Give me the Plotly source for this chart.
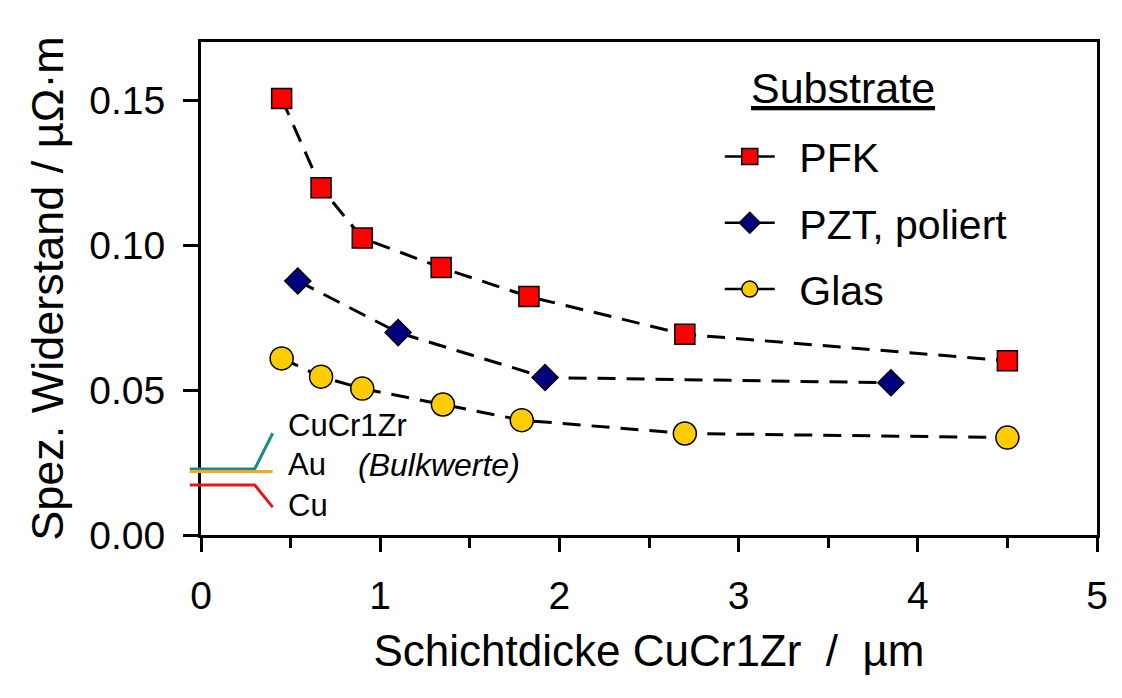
import plotly.graph_objects as go

# ---------------- data ----------------
pfk_x = [0.45, 0.67, 0.90, 1.34, 1.83, 2.70, 4.50]
pfk_y = [0.1505, 0.1197, 0.1024, 0.0922, 0.0822, 0.0692, 0.0601]

pzt_x = [0.54, 1.10, 1.92, 3.85]
pzt_y = [0.0876, 0.0698, 0.0543, 0.0525]

glas_x = [0.45, 0.67, 0.90, 1.35, 1.79, 2.70, 4.50]
glas_y = [0.0609, 0.0546, 0.0505, 0.0450, 0.0396, 0.0350, 0.0336]

bulk_names = ["CuCr1Zr", "Au", "Cu"]
bulk_values = [0.0228, 0.0219, 0.0172]
bulk_end_y = [0.0351, 0.0219, 0.0096]
bulk_colors = ["#178c8a", "#f5a623", "#e8141b"]

x_ticks = [0, 1, 2, 3, 4, 5]
y_ticks = [0.00, 0.05, 0.10, 0.15]

FONT = "Liberation Sans, Arial, sans-serif"

# layout geometry
W, H = 1122, 698
ML, MR, MT, MB = 188, 25, 42, 163
STUB = 13  # px the bulk lines extend left of the y axis
plot_w = W - ML - MR
x_range = [0, 5]
y_range = [0, 0.17]
px_per_unit = (plot_w - STUB) / (x_range[1] - x_range[0])
x2_range = [x_range[0] - STUB / px_per_unit, x_range[1]]

fig = go.Figure()

series = [
    ("PFK", pfk_x, pfk_y, "square", "#ff0000", 20),
    ("PZT, poliert", pzt_x, pzt_y, "diamond", "#000080", 20),
    ("Glas", glas_x, glas_y, "circle", "#ffcc00", 23),
]

# bulk reference lines (second, slightly wider subplot so they can reach left of the axis)
for name, v, ey, col in zip(bulk_names, bulk_values, bulk_end_y, bulk_colors):
    fig.add_trace(go.Scatter(
        x=[x2_range[0] + 0.01, 0.30, 0.40], y=[v, v, ey],
        mode="lines", line=dict(color=col, width=3),
        xaxis="x2", yaxis="y2", showlegend=False, hoverinfo="skip",
    ))

for i, (name, xs, ys, sym, col, sz) in enumerate(series):
    fig.add_trace(go.Scatter(
        x=xs, y=ys, mode="lines+markers", showlegend=False,
        line=dict(color="black", width=3, dash="18px,11px"),
        marker=dict(symbol=sym, color=col, size=sz,
                    line=dict(color="black", width=1.5)),
        cliponaxis=False,
    ))
    # legend entry (solid line sample)
    fig.add_trace(go.Scatter(
        x=[None], y=[None], mode="lines+markers", name="\u00a0\u2009" + name,
        legendgroup=name, showlegend=True,
        line=dict(color="black", width=2.5),
        marker=dict(symbol=sym, color=col, size=sz,
                    line=dict(color="black", width=1.5)),
    ))

# bulk labels
label_font = dict(family=FONT, size=31, color="black")
fig.add_annotation(x=0.475, y=0.0378, xref="x", yref="y", text="CuCr1Zr",
                   showarrow=False, xanchor="left", yanchor="middle", font=label_font)
fig.add_annotation(x=0.475, y=0.0243, xref="x", yref="y", text="Au",
                   showarrow=False, xanchor="left", yanchor="middle", font=label_font)
fig.add_annotation(x=0.475, y=0.0103, xref="x", yref="y", text="Cu",
                   showarrow=False, xanchor="left", yanchor="middle", font=label_font)
fig.add_annotation(x=0.865, y=0.0243, xref="x", yref="y",
                   text="<i>(Bulkwerte)</i>", showarrow=False,
                   xanchor="left", yanchor="middle",
                   font=dict(family=FONT, size=32, color="black"))

# legend title
fig.add_annotation(x=3.58, y=0.1540, xref="x", yref="y",
                   text="<u>Substrate</u>", showarrow=False,
                   xanchor="center", yanchor="middle",
                   font=dict(family=FONT, size=43, color="black"))

axis_common = dict(
    showline=True, linecolor="black", linewidth=3, mirror=True,
    showgrid=False, zeroline=False,
    ticks="outside", tickcolor="black", tickwidth=2.5,
    tickfont=dict(family=FONT, size=39, color="black"),
    ticklabelstandoff=10,
)

fig.update_layout(
    width=W, height=H,
    margin=dict(l=ML, r=MR, t=MT, b=MB, pad=0),
    paper_bgcolor="white", plot_bgcolor="rgba(0,0,0,0)",
    showlegend=True,
    legend=dict(x=0.585, y=0.835, xanchor="left", yanchor="top",
                bgcolor="rgba(0,0,0,0)", borderwidth=0,
                font=dict(family=FONT, size=41, color="black"),
                tracegroupgap=10, itemwidth=50),
    xaxis=dict(
        domain=[STUB / plot_w, 1], range=x_range, tickvals=x_ticks,
        ticklen=14, anchor="y",
        minor=dict(dtick=0.5, ticks="outside", ticklen=10, tickwidth=2.5,
                   tickcolor="black"),
        title=dict(text="Schichtdicke CuCr1Zr\u00a0\u00a0/\u00a0\u00a0µm",
                   font=dict(family=FONT, size=44, color="black"), standoff=20),
        **axis_common,
    ),
    yaxis=dict(
        range=y_range, tickvals=y_ticks, tickformat=".2f", ticklen=15,
        anchor="x",
        title=dict(text="Spez. Widerstand / µΩ·m",
                   font=dict(family=FONT, size=45, color="black"), standoff=12),
        **axis_common,
    ),
    xaxis2=dict(domain=[0, 1], range=x2_range, visible=False, anchor="y2"),
    yaxis2=dict(domain=[0, 1], range=y_range, visible=False, anchor="x2"),
)

fig.write_html("out.html")
